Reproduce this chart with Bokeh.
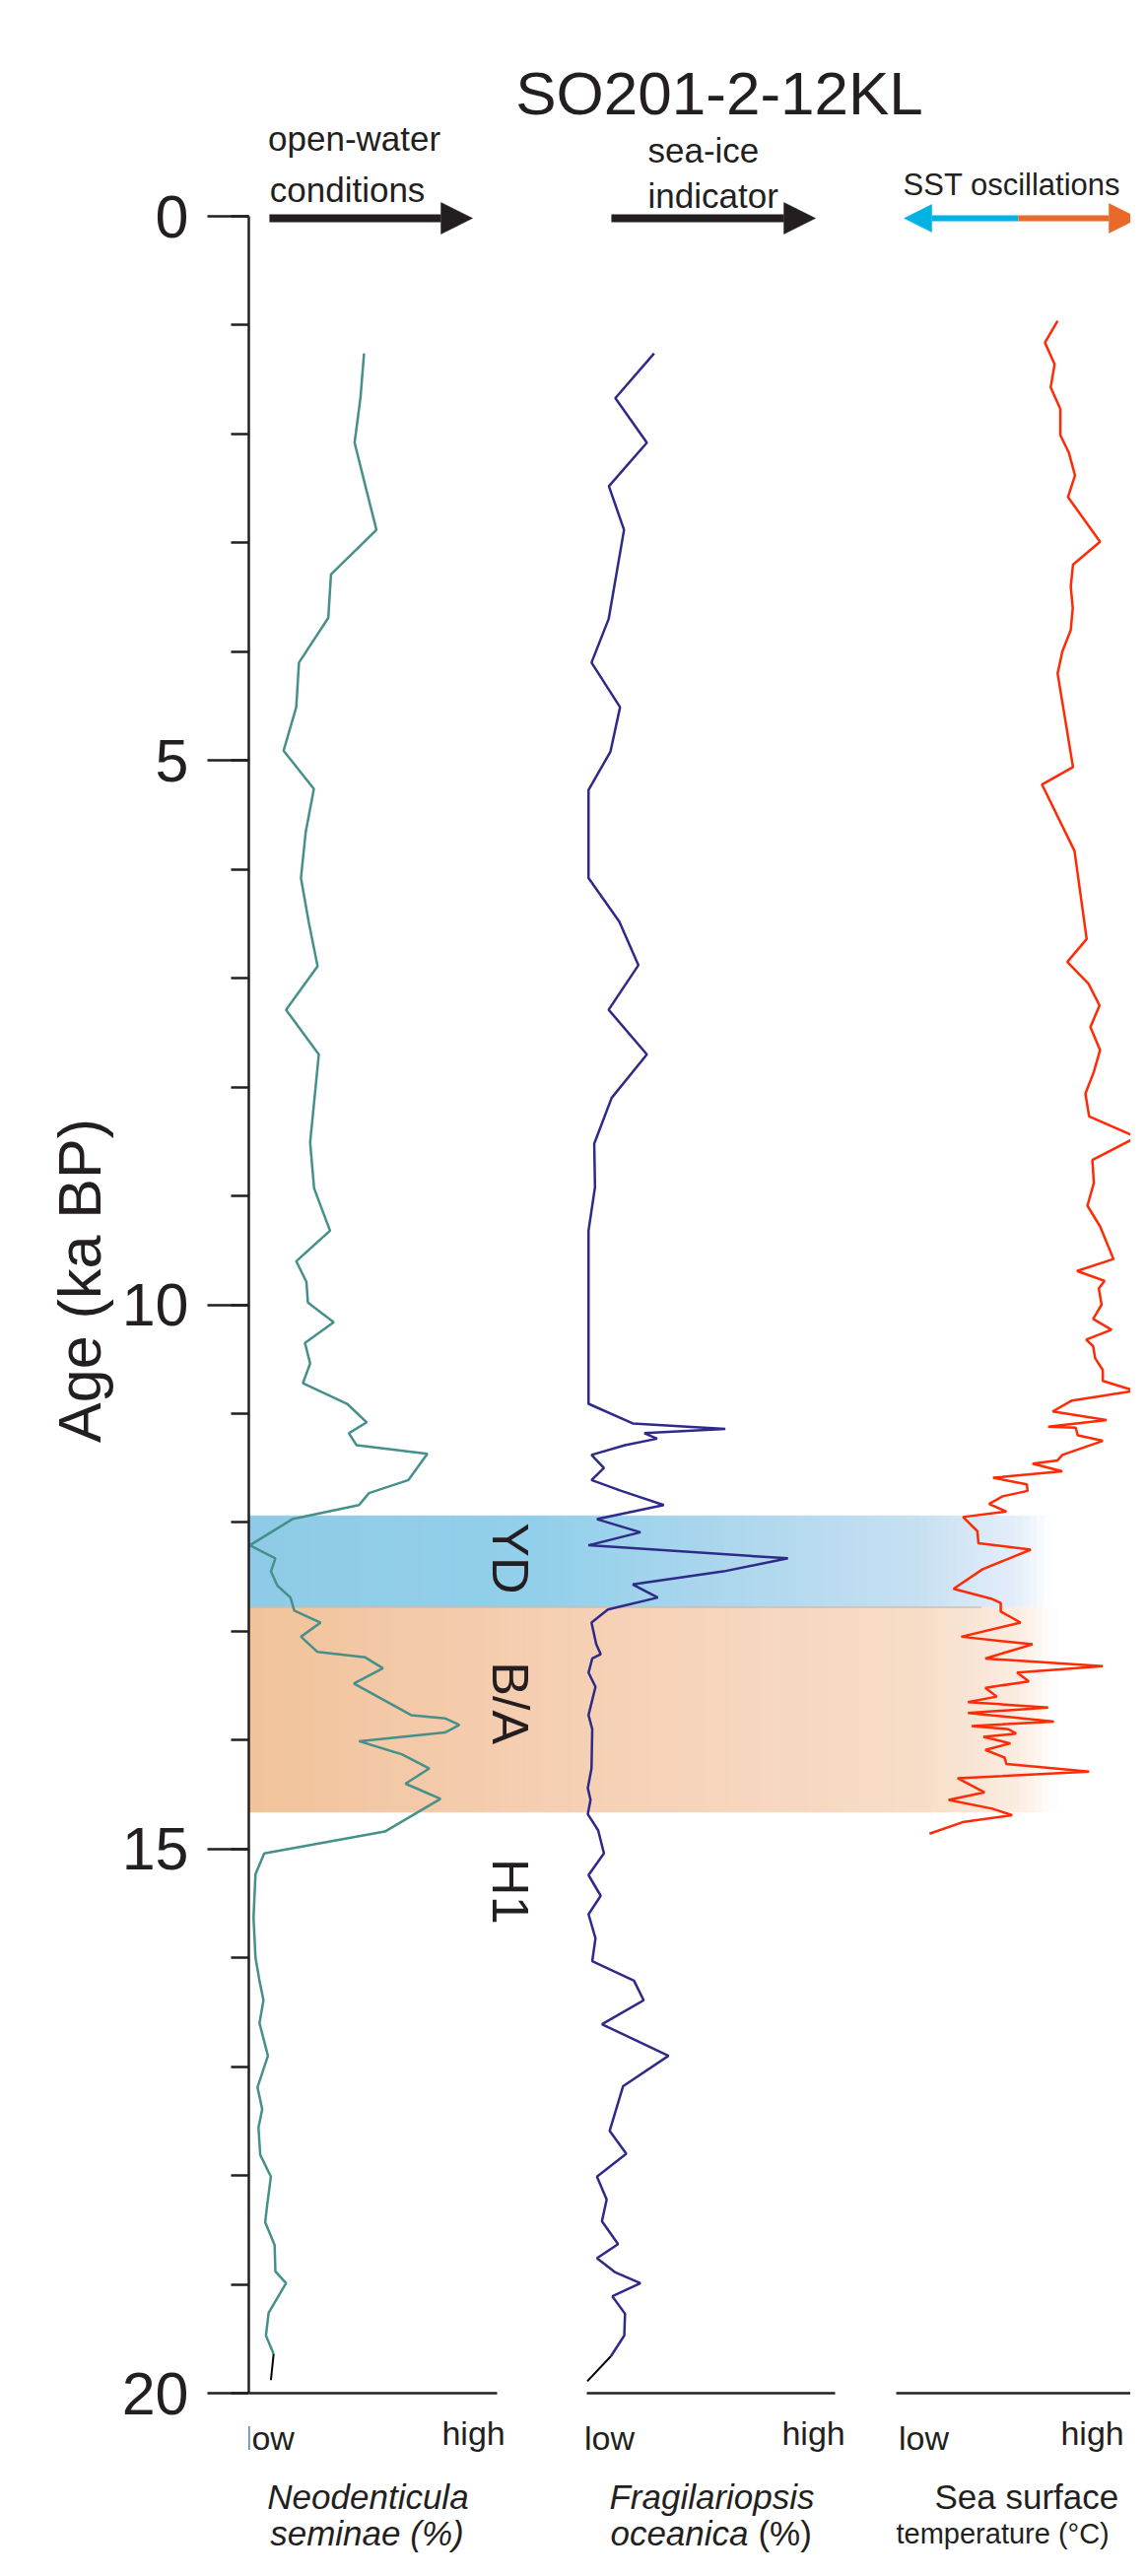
import numpy as np
from bokeh.plotting import figure
from bokeh.models import Range1d, SingleIntervalTicker, Arrow, NormalHead
from bokeh.embed import file_html
from bokeh.resources import INLINE
from bokeh.core.properties import value

# ---------------- data ----------------
core_name = "SO201-2-12KL"
age_label = "Age (ka BP)"
age_tick_interval = 5
age_limits = (0, 20)

# Neodenticula seminae, relative scale (0 = low, 1 = high)
neo_age = [1.26, 1.66, 2.08, 2.50, 2.88, 3.29, 3.69, 4.10, 4.51, 4.91,
           5.26, 5.66, 6.08, 6.48, 6.89, 7.29, 7.70, 8.51, 8.93, 9.32,
           9.60, 9.79, 9.98, 10.16, 10.35, 10.54, 10.72, 10.91, 11.08, 11.18,
           11.29, 11.37, 11.61, 11.73, 11.84, 11.97, 12.21, 12.33, 12.45, 12.58,
           12.69, 12.81, 12.92, 13.05, 13.19, 13.24, 13.34, 13.48, 13.77, 13.80,
           13.86, 13.93, 14.01, 14.13, 14.26, 14.40, 14.54, 14.84, 15.04, 15.23,
           15.63, 16.00, 16.21, 16.39, 16.60, 16.90, 17.19, 17.39, 17.56, 17.81,
           18.01, 18.27, 18.43, 18.64, 18.88, 18.99, 19.26, 19.47, 19.64, 19.88]
neo_val = [0.464, 0.450, 0.426, 0.472, 0.514, 0.331, 0.320, 0.202, 0.191, 0.140,
           0.262, 0.229, 0.210, 0.241, 0.277, 0.150, 0.282, 0.247, 0.263, 0.327,
           0.191, 0.232, 0.238, 0.342, 0.226, 0.247, 0.218, 0.396, 0.475, 0.403,
           0.434, 0.719, 0.643, 0.484, 0.444, 0.175, 0.004, 0.107, 0.089, 0.115,
           0.168, 0.183, 0.289, 0.210, 0.277, 0.469, 0.540, 0.423, 0.654, 0.790,
           0.848, 0.790, 0.444, 0.616, 0.727, 0.631, 0.772, 0.548, 0.062, 0.027,
           0.019, 0.027, 0.043, 0.059, 0.043, 0.077, 0.035, 0.054, 0.039, 0.046,
           0.089, 0.074, 0.066, 0.104, 0.107, 0.150, 0.080, 0.069, 0.100, 0.089]

# Fragilariopsis oceanica, relative scale
fra_age = [1.26, 1.67, 2.08, 2.48, 2.88, 3.70, 4.10, 4.51, 4.92, 5.27,
           6.08, 6.48, 6.88, 7.29, 7.70, 8.10, 8.52, 8.92, 9.32, 10.91,
           11.09, 11.14, 11.18, 11.23, 11.29, 11.38, 11.50, 11.61, 11.71, 11.84,
           11.97, 12.09, 12.21, 12.33, 12.45, 12.57, 12.69, 12.80, 12.92, 13.12,
           13.21, 13.25, 13.38, 13.51, 13.77, 13.90, 14.26, 14.44, 14.55, 14.68,
           14.83, 15.04, 15.24, 15.43, 15.60, 15.82, 16.03, 16.21, 16.39, 16.61,
           16.90, 17.18, 17.59, 17.80, 18.01, 18.22, 18.42, 18.63, 18.76, 18.89,
           18.99, 19.11, 19.27, 19.47, 19.66, 19.89]
fra_val = [0.271, 0.115, 0.242, 0.089, 0.150, 0.088, 0.019, 0.134, 0.095, 0.007,
           0.007, 0.131, 0.208, 0.088, 0.242, 0.100, 0.030, 0.033, 0.007, 0.007,
           0.185, 0.558, 0.232, 0.283, 0.154, 0.019, 0.069, 0.019, 0.139, 0.310,
           0.041, 0.216, 0.007, 0.810, 0.550, 0.185, 0.286, 0.085, 0.019, 0.038,
           0.056, 0.022, 0.007, 0.035, 0.007, 0.022, 0.019, 0.004, 0.015, 0.004,
           0.046, 0.069, 0.007, 0.056, 0.007, 0.035, 0.022, 0.190, 0.229, 0.061,
           0.329, 0.146, 0.092, 0.159, 0.041, 0.080, 0.061, 0.126, 0.041, 0.115,
           0.216, 0.103, 0.154, 0.151, 0.097, 0.002]

# Sea surface temperature, relative scale
sst_age = [0.96, 1.16, 1.36, 1.57, 1.77, 2.01, 2.17, 2.38, 2.58, 2.99,
           3.20, 3.40, 3.60, 3.80, 4.00, 4.20, 5.06, 5.22, 5.83, 6.64,
           6.85, 7.05, 7.25, 7.45, 7.66, 7.86, 8.06, 8.27, 8.46, 8.67,
           8.88, 9.09, 9.28, 9.58, 9.69, 9.78, 9.85, 10.00, 10.13, 10.23,
           10.32, 10.38, 10.49, 10.60, 10.70, 10.79, 10.88, 10.98, 11.06, 11.12,
           11.13, 11.20, 11.25, 11.38, 11.43, 11.46, 11.53, 11.59, 11.65, 11.71,
           11.76, 11.83, 11.90, 11.95, 12.08, 12.19, 12.25, 12.43, 12.61, 12.70,
           12.74, 12.82, 12.92, 13.05, 13.12, 13.25, 13.32, 13.38, 13.46, 13.52,
           13.60, 13.65, 13.70, 13.75, 13.83, 13.87, 13.90, 13.94, 13.97, 14.03,
           14.09, 14.16, 14.22, 14.29, 14.35, 14.48, 14.55, 14.63, 14.69, 14.75,
           14.86]
sst_val = [0.650, 0.599, 0.638, 0.622, 0.661, 0.661, 0.695, 0.720, 0.692, 0.821,
           0.712, 0.703, 0.711, 0.703, 0.669, 0.650, 0.712, 0.587, 0.718, 0.767,
           0.689, 0.774, 0.819, 0.782, 0.821, 0.796, 0.762, 0.777, 0.968, 0.790,
           0.796, 0.770, 0.821, 0.875, 0.728, 0.839, 0.816, 0.827, 0.793, 0.867,
           0.765, 0.793, 0.801, 0.832, 0.832, 0.960, 0.708, 0.630, 0.847, 0.612,
           0.723, 0.731, 0.832, 0.669, 0.650, 0.549, 0.669, 0.390, 0.526, 0.529,
           0.429, 0.374, 0.444, 0.269, 0.327, 0.331, 0.542, 0.348, 0.231, 0.382,
           0.421, 0.421, 0.501, 0.262, 0.549, 0.359, 0.832, 0.487, 0.534, 0.359,
           0.405, 0.289, 0.612, 0.289, 0.635, 0.304, 0.452, 0.483, 0.351, 0.460,
           0.359, 0.436, 0.444, 0.777, 0.247, 0.356, 0.211, 0.387, 0.467, 0.273,
           0.134]

event_names = ["YD", "B/A", "H1"]
event_label_age = [12.33, 13.66, 15.39]
yd_interval = (11.94, 12.78)
ba_interval = (12.78, 14.66)

scale_words = ["low", "high"]

# ---------------- layout & style ----------------
W, H = 1147, 2598
FRAME_LEFT = 252          # canvas px where the age axis sits
AGE0_PX = 219             # canvas y of age 0
PX_PER_KA = 110.45
PANEL_X0 = [252, 595, 909]
PANEL_W = 252
FONT = "Liberation Sans"
INK = "#231F20"
C_NEO = "#45908A"
C_FRA = "#2E2A88"
C_SST = "#FF2A06"
C_BLUE = "#00B3E3"
C_ORANGE = "#E8692A"

y_top = -AGE0_PX / PX_PER_KA
y_bot = (H - AGE0_PX) / PX_PER_KA


def prange(x0):
    return Range1d((FRAME_LEFT - x0) / PANEL_W, (W - x0) / PANEL_W)


p = figure(width=W, height=H, output_backend="svg", toolbar_location=None, tools="",
           x_range=prange(PANEL_X0[0]), y_range=Range1d(y_bot, y_top),
           x_axis_location=None, y_axis_location="left",
           min_border_left=FRAME_LEFT, min_border_right=0,
           min_border_top=0, min_border_bottom=0)
p.extra_x_ranges = {"p2": prange(PANEL_X0[1]), "p3": prange(PANEL_X0[2])}
p.outline_line_color = None
p.grid.grid_line_color = None
p.background_fill_color = "white"
p.border_fill_color = "white"

ax = p.yaxis[0]
ax.ticker = SingleIntervalTicker(interval=age_tick_interval, num_minor_ticks=5)
ax.bounds = age_limits
ax.axis_label = age_label
ax.axis_label_text_font = FONT
ax.axis_label_text_font_size = "61px"
ax.axis_label_text_font_style = "normal"
ax.axis_label_text_color = INK
ax.axis_label_standoff = 6
ax.major_label_text_font = FONT
ax.major_label_text_font_size = "61px"
ax.major_label_text_color = INK
ax.major_label_standoff = 19
ax.axis_line_color = INK
ax.axis_line_width = 2.5
ax.major_tick_line_color = INK
ax.major_tick_line_width = 2.5
ax.major_tick_out = 42
ax.major_tick_in = 0
ax.minor_tick_line_color = INK
ax.minor_tick_line_width = 2.5
ax.minor_tick_out = 18
ax.minor_tick_in = 0

# ---------------- shaded intervals (horizontal fade) ----------------
N_SLICES = 110


def gradient_band(a0, a1, stop_x, stop_rgb):
    edges = np.linspace(stop_x[0], stop_x[-1], N_SLICES + 1)
    mids = 0.5 * (edges[:-1] + edges[1:])
    rgb = np.array(stop_rgb, dtype=float)
    cols = []
    for m in mids:
        r = np.interp(m, stop_x, rgb[:, 0])
        g = np.interp(m, stop_x, rgb[:, 1])
        b = np.interp(m, stop_x, rgb[:, 2])
        cols.append("#%02x%02x%02x" % (int(round(r)), int(round(g)), int(round(b))))
    p.quad(left=edges[:-1], right=edges[1:], top=[a0] * N_SLICES, bottom=[a1] * N_SLICES,
           fill_color=cols, line_color=cols, line_width=1)


gradient_band(yd_interval[0], yd_interval[1],
              [0.0, 1.15, 2.08, 2.70, 3.095, 3.234],
              [(143, 203, 231), (146, 207, 234), (177, 216, 238), (198, 224, 243),
               (228, 238, 249), (255, 255, 255)])
gradient_band(ba_interval[0], ba_interval[1],
              [0.0, 1.15, 2.70, 3.095, 3.254],
              [(241, 195, 154), (245, 206, 178), (247, 221, 199), (250, 236, 225),
               (255, 255, 255)])
p.segment(x0=[0.0], y0=[yd_interval[1]], x1=[2.95], y1=[yd_interval[1]],
          line_color="#C9B6A6", line_width=1.5, line_alpha=0.8)

# ---------------- panel baselines ----------------
for rng in ["default", "p2", "p3"]:
    p.segment(x0=[0], y0=[age_limits[1]], x1=[1], y1=[age_limits[1]],
              line_color=INK, line_width=2.5, x_range_name=rng)

# ---------------- records ----------------
p.line(neo_val[:-1], neo_age[:-1], line_color=C_NEO, line_width=2.5)
p.line(neo_val[-2:], neo_age[-2:], line_color="black", line_width=2)
p.line(fra_val[:-1], fra_age[:-1], line_color=C_FRA, line_width=2.5, x_range_name="p2")
p.line(fra_val[-2:], fra_age[-2:], line_color="black", line_width=2, x_range_name="p2")
p.line(sst_val, sst_age, line_color=C_SST, line_width=2.5, x_range_name="p3")


# ---------------- texts ----------------
def txt(x, y, s, rng="default", size="35px", align="center", style="normal",
        baseline="alphabetic", angle=0.0):
    p.text(x=[x], y=[y], text=[s], x_range_name=rng, text_font=value(FONT),
           text_font_size=size, text_align=align, text_baseline=baseline,
           text_font_style=style, text_color=INK, angle=angle)


txt(1.895, -1.132, core_name, size="62px")
txt(0.425, -0.715, "open-water")
txt(0.397, -0.244, "conditions")
txt(0.246, -0.607, "sea-ice", rng="p2", align="left")
txt(0.246, -0.190, "indicator", rng="p2", align="left")
txt(0.028, -0.290, "SST oscillations", rng="p3", align="left", size="31px")

for name, a in zip(event_names, event_label_age):
    txt(1.052, a, name, size="52px", baseline="middle", angle=-np.pi / 2)

low_x = {"default": 0.083, "p2": 0.091, "p3": 0.111}
high_x = {"default": 0.905, "p2": 0.913, "p3": 0.79}
for rng in ["default", "p2", "p3"]:
    txt(low_x[rng], 20.41, scale_words[0], rng=rng, size="34px")
    txt(high_x[rng], 20.37, scale_words[1], rng=rng, size="34px")

ROW1, ROW2 = 20.951, 21.286
txt(0.480, ROW1, "Neodenticula", style="italic")
txt(0.476, ROW2, "seminae (%)", style="italic")
txt(0.504, ROW1, "Fragilariopsis", rng="p2", style="italic")
txt(0.095, ROW2, "oceanica", rng="p2", align="left", style="italic")
txt(0.690, ROW2, "(%)", rng="p2", align="left")
txt(0.525, ROW1, "Sea surface", rng="p3")
txt(0.0, ROW2, "temperature (\u00b0C)", rng="p3", align="left", size="29px")

# ---------------- direction arrows ----------------
ARROW_AGE = 0.018


def arrow(rng, x0, x1, color, lw, size):
    p.add_layout(Arrow(end=NormalHead(size=size, fill_color=color, line_color=color, line_width=0.5),
                       x_start=x0, y_start=ARROW_AGE, x_end=x1, y_end=ARROW_AGE,
                       line_color=color, line_width=lw, x_range_name=rng))


arrow("default", 0.083, 0.901, INK, 8, 32)
arrow("p2", 0.099, 0.921, INK, 8, 32)
arrow("p3", 0.492, 0.032, C_BLUE, 6, 28)
arrow("p3", 0.492, 0.976, C_ORANGE, 6, 30)

open("out.html", "w").write(file_html(p, INLINE))
